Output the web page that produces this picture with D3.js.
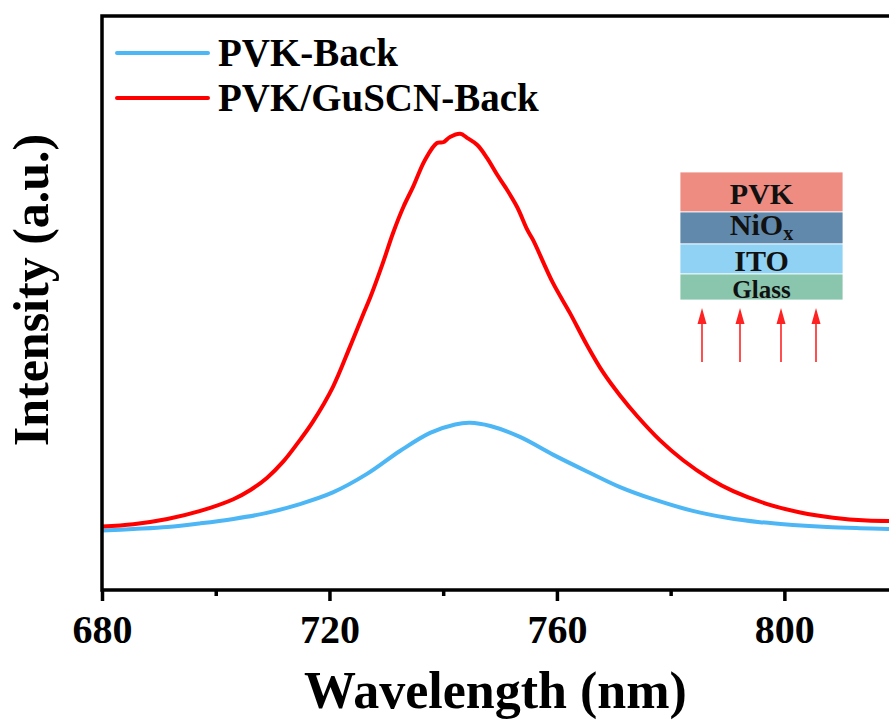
<!DOCTYPE html>
<html>
<head>
<meta charset="utf-8">
<script src="https://cdn.jsdelivr.net/npm/d3@7"></script>
<style>
  body { margin: 0; background: #fff; }
  text { font-family: "Liberation Serif", "Times New Roman", serif; font-weight: bold; }
</style>
</head>
<body>
<svg id="chart" width="889" height="720"></svg>
<script>
// wavelength (nm) and intensity (a.u., normalised to red peak)
const wavelengthBack = [680, 685.5, 691.5, 697.3, 703.1, 709.0, 714.8, 720.6, 726.6, 732.4, 737.7, 742.1, 744.7, 748.3, 753.5, 759.3, 765.3, 771.1, 776.9, 783.9, 789.9, 795.7, 801.5, 807.5, 813.3, 818.4];
const pvkBack = [0.011, 0.015, 0.020, 0.029, 0.040, 0.055, 0.077, 0.106, 0.152, 0.209, 0.254, 0.275, 0.279, 0.271, 0.244, 0.200, 0.158, 0.119, 0.089, 0.060, 0.043, 0.032, 0.025, 0.020, 0.017, 0.015];

const wavelengthGu = [680, 685.5, 691.5, 697.3, 703.1, 706.1, 709.0, 711.9, 714.8, 717.1, 720.6, 723.6, 725.9, 727.2, 729.4, 731.2, 733.0, 734.7, 736.8, 738.9, 740.0, 741.2, 743.0, 744.2, 746.0, 747.7, 749.5, 750.9, 753.0, 754.8, 755.8, 759.3, 762.3, 765.3, 768.1, 771.1, 774.1, 778.1, 782.2, 786.9, 791.0, 797.0, 802.8, 808.6, 814.5, 818.4];
const pvkGuBack = [0.021, 0.027, 0.040, 0.060, 0.089, 0.112, 0.142, 0.183, 0.236, 0.282, 0.368, 0.468, 0.548, 0.592, 0.677, 0.752, 0.816, 0.866, 0.933, 0.975, 0.977, 0.990, 0.998, 0.988, 0.970, 0.938, 0.896, 0.866, 0.816, 0.759, 0.734, 0.627, 0.552, 0.472, 0.405, 0.347, 0.296, 0.236, 0.186, 0.140, 0.109, 0.077, 0.056, 0.043, 0.036, 0.035];

const seriesNames = ["PVK-Back", "PVK/GuSCN-Back"];
const seriesColors = ["#4db6f5", "#ff0000"];

const majorTicks = [680, 720, 760, 800];
const minorTicks = [700, 740, 780];

const layerNames = ["PVK", "NiO", "ITO", "Glass"];
const layerColors = ["#ef8c82", "#6189ac", "#90d2f3", "#8ac6ae"];

const svg = d3.select("#chart");
const margin = { top: 16, right: 0, bottom: 130, left: 102 };
const width = 889, height = 720;

const x = d3.scaleLinear().domain([680, 818.4]).range([margin.left, width]);
const y = d3.scaleLinear().domain([-0.1368, 1.291]).range([height - margin.bottom, margin.top]);

svg.append("defs").append("clipPath").attr("id", "plot")
  .append("rect").attr("x", margin.left).attr("y", margin.top)
  .attr("width", width - margin.left).attr("height", y.range()[0] - margin.top);

const line = d3.line().x(d => x(d[0])).y(d => y(d[1])).curve(d3.curveCatmullRom.alpha(0.5));

const series = [
  d3.zip(wavelengthBack, pvkBack),
  d3.zip(wavelengthGu, pvkGuBack)
];

svg.append("g").attr("clip-path", "url(#plot)")
  .selectAll("path")
  .data(series)
  .join("path")
  .attr("d", line)
  .attr("fill", "none")
  .attr("stroke", (d, i) => seriesColors[i])
  .attr("stroke-width", 4)
  .attr("stroke-linejoin", "round");

// axes
const yBottom = y.range()[0];
const xAxis = svg.append("g").attr("transform", `translate(0,${yBottom})`)
  .call(d3.axisBottom(x).tickValues(majorTicks).tickSize(11).tickPadding(14).tickFormat(d3.format("d")));
xAxis.select(".domain").remove();
xAxis.selectAll(".tick line").attr("stroke", "#000").attr("stroke-width", 3.5);
xAxis.selectAll(".tick text").attr("font-size", 40).attr("fill", "#000")
  .attr("font-family", "Liberation Serif, Times New Roman, serif");

const xMinor = svg.append("g").attr("transform", `translate(0,${yBottom})`)
  .call(d3.axisBottom(x).tickValues(minorTicks).tickSize(6).tickFormat(""));
xMinor.select(".domain").remove();
xMinor.selectAll(".tick line").attr("stroke", "#000").attr("stroke-width", 3.5);

// frame
svg.append("path")
  .attr("d", `M${width},${margin.top}H${margin.left}V${yBottom}H${width}`)
  .attr("fill", "none").attr("stroke", "#000").attr("stroke-width", 3.5);

// axis titles
svg.append("text").attr("x", (margin.left + width) / 2).attr("y", 708)
  .attr("text-anchor", "middle").attr("font-size", 52).text("Wavelength (nm)");
svg.append("text").attr("transform", "translate(48,290) rotate(-90)")
  .attr("text-anchor", "middle").attr("font-size", 50).text("Intensity (a.u.)");

// legend
const legend = svg.append("g").selectAll("g").data(seriesNames).join("g")
  .attr("transform", (d, i) => `translate(117,${53 + i * 45})`);
legend.append("line").attr("x1", 0).attr("x2", 91)
  .attr("stroke", (d, i) => seriesColors[i]).attr("stroke-width", 4).attr("stroke-linecap", "round");
legend.append("text").attr("x", 101).attr("y", 13).attr("font-size", 39).text(d => d);

// inset: device stack with light from the back
const layerH = [40, 32, 30, 26];
const labelDrop = [8, 9, 3, 2];
let yy = 172;
const inset = svg.append("g");
layerNames.forEach((name, i) => {
  inset.append("rect").attr("x", 680).attr("y", yy).attr("width", 163).attr("height", layerH[i])
    .attr("fill", layerColors[i]).attr("stroke", "#fff").attr("stroke-width", 0.8);
  const t = inset.append("text").attr("x", 761.5).attr("y", yy + layerH[i] - labelDrop[i])
    .attr("text-anchor", "middle").attr("font-size", i === 3 ? 25 : 30).attr("fill", "#111");
  if (name === "NiO") {
    t.append("tspan").text("NiO");
    t.append("tspan").attr("font-size", 20).attr("dy", 5).text("x");
  } else {
    t.text(name);
  }
  yy += layerH[i];
});

const arrowX = [702, 740, 781, 816];
inset.selectAll(".arrow").data(arrowX).join("g").attr("class", "arrow")
  .each(function (ax) {
    const g = d3.select(this);
    g.append("line").attr("x1", ax).attr("x2", ax).attr("y1", 362).attr("y2", 320)
      .attr("stroke", "#f22").attr("stroke-width", 1.6);
    g.append("path").attr("d", `M${ax},308L${ax - 4.5},324L${ax + 4.5},324Z`).attr("fill", "#f22");
  });
</script>
</body>
</html>
